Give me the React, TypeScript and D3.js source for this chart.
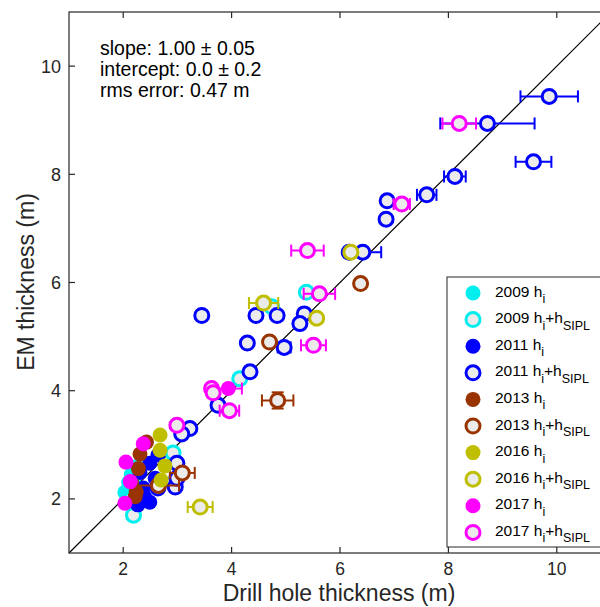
import React from "react";
import * as d3 from "d3";

type P = [number, number, number?, number?];

const xTicks = [2, 4, 6, 8, 10];
const yTicks = [2, 4, 6, 8, 10];

const c2009hi: P[] = [[2.03, 2.12], [2.1, 2.3], [2.15, 2.45], [2.25, 2.6]];
const c2009sipl: P[] = [[2.19, 1.7], [2.15, 2.0], [2.2, 2.25], [2.92, 2.85], [4.15, 4.22], [4.74, 5.55], [5.38, 5.82]];
const c2011hi: P[] = [[2.4, 2.03], [2.27, 1.89], [2.49, 1.94], [2.37, 2.2], [2.59, 2.38], [2.49, 2.66], [2.64, 2.81], [2.31, 2.49]];
const c2011sipl: P[] = [
  [9.86, 9.44, 0.53, 0], [8.72, 8.94, 0.87, 0], [9.57, 8.23, 0.33, 0], [8.12, 7.96, 0.2, 0],
  [7.6, 7.62, 0.18, 0], [6.87, 7.51, 0, 0.08], [6.85, 7.17], [6.17, 6.56], [6.42, 6.56, 0.34, 0],
  [3.45, 5.39, 0, 0.08], [4.45, 5.39, 0, 0.08], [4.84, 5.39, 0, 0.08], [5.34, 5.42, 0, 0.08],
  [5.26, 5.24], [4.29, 4.88], [4.97, 4.8, 0.12, 0], [4.34, 4.35], [3.75, 3.73], [3.23, 3.3],
  [3.08, 3.2], [2.99, 2.66], [2.96, 2.22], [2.64, 2.2], [2.99, 2.38]
];
const c2013hi: P[] = [[2.43, 3.05], [2.31, 2.83], [2.28, 2.56], [2.24, 2.13], [2.22, 2.04]];
const c2013sipl: P[] = [[6.38, 5.98], [4.7, 4.9], [4.85, 3.82, 0.29, 0.15], [3.09, 2.48, 0.23, 0], [2.65, 2.25, 0.38, 0]];
const c2016hi: P[] = [[2.68, 3.18], [2.68, 2.9], [2.77, 2.61], [2.7, 2.35]];
const c2016sipl: P[] = [[6.2, 6.56], [4.59, 5.62, 0.27, 0], [5.57, 5.34], [3.42, 1.85, 0.23, 0]];
const c2017hi: P[] = [[2.05, 2.68], [2.37, 3.02], [2.13, 2.32], [2.03, 1.92], [3.94, 4.04, 0.25, 0]];
const c2017sipl: P[] = [
  [8.2, 8.94, 0.31, 0], [7.14, 7.45, 0.15, 0], [5.4, 6.59, 0.3, 0], [5.62, 5.79, 0.29, 0],
  [5.51, 4.84, 0.23, 0], [3.63, 4.04], [3.66, 3.96], [3.96, 3.63, 0.18, 0], [2.99, 3.36]
];

const years = ["2009", "2011", "2013", "2016", "2017"];
const colors = ["#00EEEE", "#0000FF", "#993300", "#BFBF00", "#FF00FF"];
const filledData = [c2009hi, c2011hi, c2013hi, c2016hi, c2017hi];
const openData = [c2009sipl, c2011sipl, c2013sipl, c2016sipl, c2017sipl];

const statLines = ["slope: 1.00 \u00B1 0.05", "intercept: 0.0 \u00B1 0.2", "rms error: 0.47 m"];

const FONT = "'Liberation Sans', Arial, Helvetica, sans-serif";

export default function App() {
  const x = d3.scaleLinear().domain([1, 11]).range([69, 611]);
  const y = d3.scaleLinear().domain([1, 11]).range([553, 12]);
  const axisColor = "#262626";
  const R = 7;

  const renderSeries = (data: P[], color: string, open: boolean, key: string) => (
    <g key={key}>
      {data.map((p, i) => {
        const [px, py, xe = 0, ye = 0] = p;
        const cx = x(px), cy = y(py);
        return (
          <g key={i}>
            {xe > 0 && (
              <g stroke={color} strokeWidth={2}>
                <line x1={x(px - xe)} x2={x(px + xe)} y1={cy} y2={cy} />
                <line x1={x(px - xe)} x2={x(px - xe)} y1={cy - 6} y2={cy + 6} />
                <line x1={x(px + xe)} x2={x(px + xe)} y1={cy - 6} y2={cy + 6} />
              </g>
            )}
            {ye > 0 && (
              <g stroke={color} strokeWidth={2}>
                <line x1={cx} x2={cx} y1={y(py - ye)} y2={y(py + ye)} />
                <line x1={cx - 6} x2={cx + 6} y1={y(py - ye)} y2={y(py - ye)} />
                <line x1={cx - 6} x2={cx + 6} y1={y(py + ye)} y2={y(py + ye)} />
              </g>
            )}
            {open ? (
              <circle cx={cx} cy={cy} r={R} fill="#EBEBEB" stroke={color} strokeWidth={3} />
            ) : (
              <circle cx={cx} cy={cy} r={R + 0.5} fill={color} />
            )}
          </g>
        );
      })}
    </g>
  );

  const legendRows: { label: string; open: boolean; color: string }[] = [];
  years.forEach((yr, i) => {
    legendRows.push({ label: yr, open: false, color: colors[i] });
    legendRows.push({ label: yr, open: true, color: colors[i] });
  });

  return (
    <svg width={600} height={607} style={{ position: "absolute", left: 0, top: 0 }} fontFamily={FONT}>
      <rect x={0} y={0} width={600} height={607} fill="#fff" />
      <line x1={x(1)} y1={y(1)} x2={x(11)} y2={y(11)} stroke="#000" strokeWidth={1.2} />
      {years.map((yr, i) => (
        <g key={yr}>
          {renderSeries(filledData[i], colors[i], false, yr + "f")}
          {renderSeries(openData[i], colors[i], true, yr + "o")}
        </g>
      ))}
      <rect x={x(1)} y={y(11)} width={x(11) - x(1)} height={y(1) - y(11)} fill="none" stroke={axisColor} strokeWidth={1.2} />
      {xTicks.map((t) => (
        <g key={"xt" + t}>
          <line x1={x(t)} x2={x(t)} y1={y(1)} y2={y(1) - 6} stroke={axisColor} strokeWidth={1.2} />
          <line x1={x(t)} x2={x(t)} y1={y(11)} y2={y(11) + 6} stroke={axisColor} strokeWidth={1.2} />
          <text x={x(t)} y={575} textAnchor="middle" fontSize={17.5} fill="#262626">{t}</text>
        </g>
      ))}
      {yTicks.map((t) => (
        <g key={"yt" + t}>
          <line x1={x(1)} x2={x(1) + 6} y1={y(t)} y2={y(t)} stroke={axisColor} strokeWidth={1.2} />
          <line x1={x(11)} x2={x(11) - 6} y1={y(t)} y2={y(t)} stroke={axisColor} strokeWidth={1.2} />
          <text x={61} y={y(t) + 6.5} textAnchor="end" fontSize={18} fill="#262626">{t}</text>
        </g>
      ))}
      <text x={339} y={601} textAnchor="middle" fontSize={23} fill="#262626">Drill hole thickness (m)</text>
      <text transform={`translate(34,282) rotate(-90)`} textAnchor="middle" fontSize={23} fill="#262626">EM thickness (m)</text>
      {statLines.map((s, i) => (
        <text key={s} x={100} y={55 + i * 21} fontSize={19.5} fill="#000">{s}</text>
      ))}
      <rect x={447} y={277} width={170} height={270} fill="#fff" stroke={axisColor} strokeWidth={1} />
      {legendRows.map((r, i) => {
        const cy = 293 + i * 26.6;
        return (
          <g key={i}>
            {r.open ? (
              <circle cx={473} cy={cy} r={R} fill="#EBEBEB" stroke={r.color} strokeWidth={3} />
            ) : (
              <circle cx={473} cy={cy} r={R + 0.5} fill={r.color} />
            )}
            <text x={495} y={cy + 3.5} fontSize={15.5} fill="#000">
              {r.label} h
              <tspan dy={6.5} fontSize={12.5}>i</tspan>
              {r.open && (
                <>
                  <tspan dy={-6.5}>+h</tspan>
                  <tspan dy={6.5} fontSize={12.5}>SIPL</tspan>
                </>
              )}
            </text>
          </g>
        );
      })}
    </svg>
  );
}
